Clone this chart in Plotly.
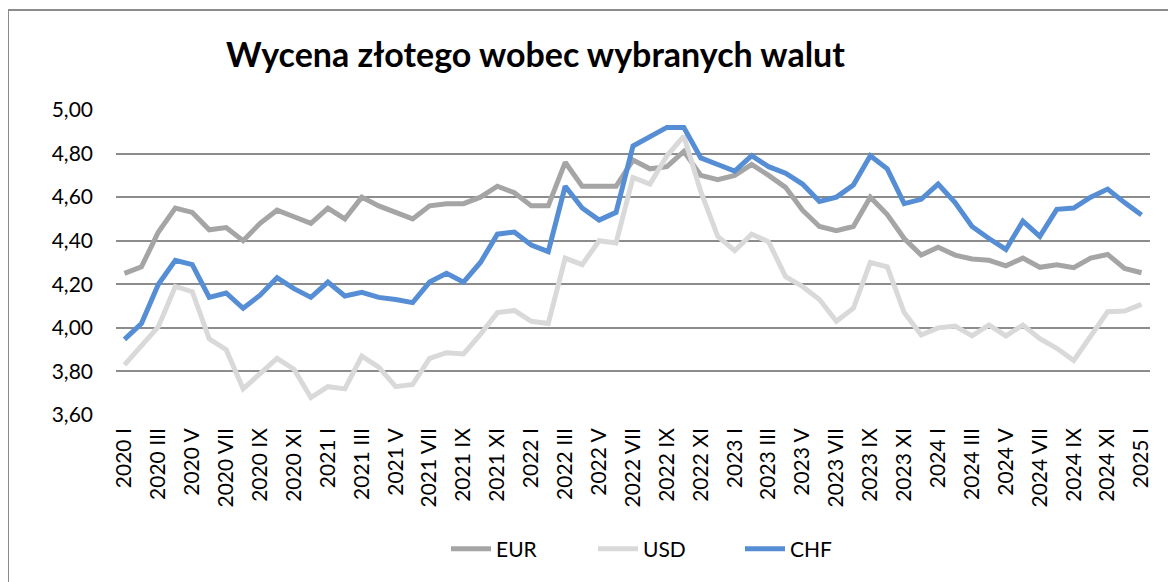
import plotly.graph_objects as go

roman = ["I", "II", "III", "IV", "V", "VI", "VII", "VIII", "IX", "X", "XI", "XII"]
months = [f"{y} {r}" for y in range(2020, 2025) for r in roman] + ["2025 I"]

eur = [4.25, 4.28, 4.44, 4.55, 4.53, 4.45, 4.46, 4.40, 4.48, 4.54, 4.51, 4.48,
       4.55, 4.50, 4.60, 4.56, 4.53, 4.50, 4.56, 4.57, 4.57, 4.60, 4.65, 4.62,
       4.56, 4.56, 4.76, 4.65, 4.65, 4.65, 4.77, 4.73, 4.74, 4.81, 4.70, 4.68,
       4.70, 4.75, 4.70, 4.645, 4.54, 4.465, 4.446, 4.465, 4.60, 4.52, 4.41, 4.334,
       4.37, 4.334, 4.316, 4.31, 4.285, 4.32, 4.278, 4.29, 4.276, 4.32, 4.337, 4.273, 4.253]

usd = [3.83, 3.917, 4.005, 4.19, 4.166, 3.95, 3.90, 3.72, 3.79, 3.86, 3.81, 3.68,
       3.73, 3.72, 3.87, 3.82, 3.73, 3.74, 3.86, 3.886, 3.88, 3.97, 4.07, 4.08,
       4.03, 4.02, 4.32, 4.29, 4.40, 4.39, 4.69, 4.66, 4.79, 4.88, 4.625, 4.42,
       4.354, 4.43, 4.395, 4.235, 4.19, 4.13, 4.03, 4.09, 4.30, 4.28, 4.07, 3.967,
       4.00, 4.008, 3.963, 4.013, 3.963, 4.013, 3.95, 3.906, 3.85, 3.96, 4.074, 4.077, 4.108]

chf = [3.947, 4.02, 4.20, 4.31, 4.29, 4.14, 4.16, 4.09, 4.15, 4.23, 4.18, 4.14,
       4.21, 4.146, 4.163, 4.14, 4.13, 4.116, 4.21, 4.25, 4.21, 4.30, 4.43, 4.44,
       4.38, 4.35, 4.65, 4.55, 4.495, 4.53, 4.835, 4.88, 4.92, 4.92, 4.78, 4.75,
       4.72, 4.79, 4.74, 4.71, 4.66, 4.58, 4.60, 4.656, 4.79, 4.73, 4.57, 4.59,
       4.66, 4.575, 4.465, 4.41, 4.36, 4.49, 4.42, 4.544, 4.55, 4.60, 4.637, 4.575, 4.518]

series = [("EUR", eur, "#A5A5A5"), ("USD", usd, "#D9D9D9"), ("CHF", chf, "#558ED5")]

fig = go.Figure()
for name, vals, col in series:
    fig.add_trace(go.Scatter(x=months, y=vals, name=name, mode="lines",
                             line=dict(color=col, width=5)))

FONT = "Lato, 'Open Sans', sans-serif"
W, H = 1176, 582
L, T, R, B = 108, 102, 34, 175
pw, ph = W - L - R, H - T - B

fig.update_layout(
    width=W, height=H,
    margin=dict(l=L, r=R, t=T, b=B, autoexpand=False),
    paper_bgcolor="white", plot_bgcolor="white",
    separators=", ",
    font=dict(family=FONT, size=21, color="#000000"),
    title=dict(text="<b>Wycena złotego wobec wybranych walut</b>",
               font=dict(family=FONT, size=34, color="#000000"),
               x=527.5 / W, xanchor="center", xref="container",
               y=1 - 47 / H, yanchor="middle", yref="container"),
    showlegend=True,
    legend=dict(orientation="h", x=438 / W, xanchor="left", xref="container",
                y=1 - 541 / H, yanchor="middle", yref="container",
                font=dict(family=FONT, size=21), itemwidth=40,
                entrywidth=92, entrywidthmode="pixels", tracegroupgap=0),
    shapes=[dict(type="rect", xref="paper", yref="paper",
                 x0=-L / pw, x1=1 + (R + 20) / pw, y0=-(B + 20) / ph, y1=1 + (T - 2) / ph,
                 line=dict(color="#8C8C8C", width=2), fillcolor="rgba(0,0,0,0)")],
)
fig.update_xaxes(type="category", tickvals=months[::2], tickangle=-90,
                 showgrid=False, showline=False, ticks="", ticklabelstandoff=8,
                 tickfont=dict(family=FONT, size=21), range=[-0.5, 60.5])
fig.update_yaxes(range=[3.6, 5.0], dtick=0.2, tick0=3.6, tickformat=".2f",
                 showgrid=True, gridcolor="#8C8C8C", gridwidth=1.5,
                 zeroline=False, showline=False, ticks="", ticklabelstandoff=22,
                 tickfont=dict(family=FONT, size=21))
fig.write_html("out.html")
